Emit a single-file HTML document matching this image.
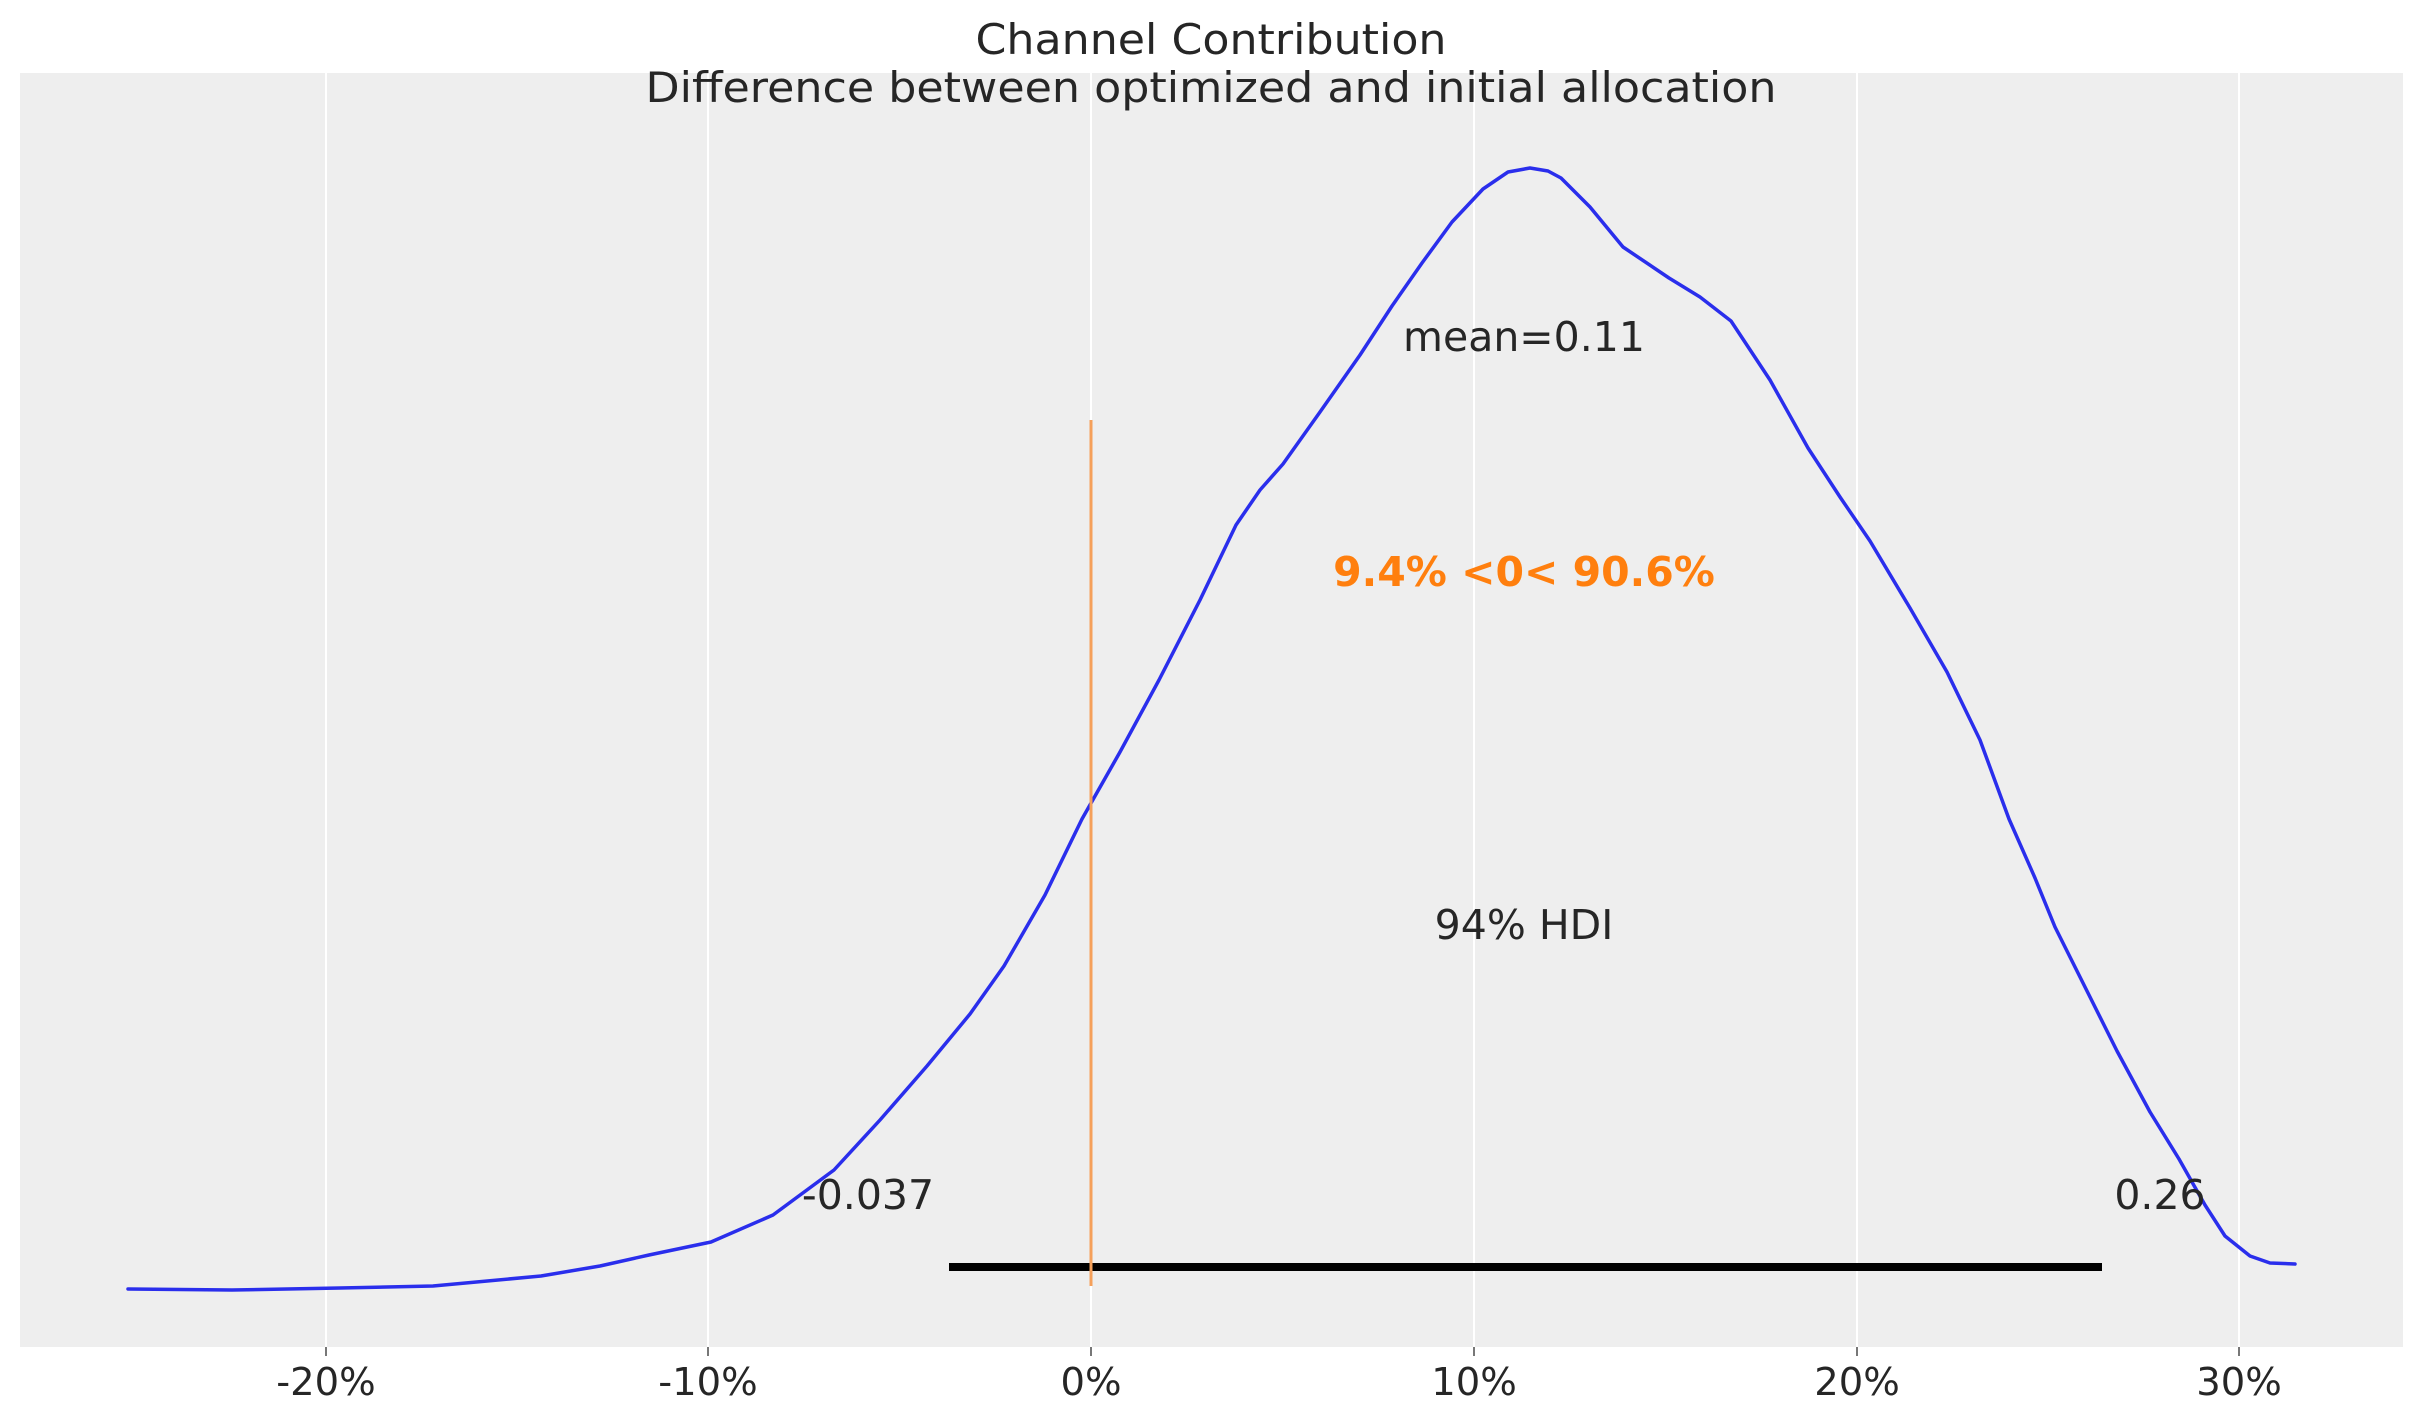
<!DOCTYPE html>
<html><head><meta charset="utf-8"><style>
html,body{margin:0;padding:0;background:#fff}
svg{display:block}
text{font-family:"DejaVu Sans","Liberation Sans",sans-serif;fill:#262626}
</style></head><body>
<svg width="2423" height="1423" viewBox="0 0 2423 1423" xmlns="http://www.w3.org/2000/svg">
<rect x="20" y="73" width="2383" height="1274" fill="#eeeeee"/>
<g stroke="#ffffff" stroke-width="2">
<line x1="326" y1="73" x2="326" y2="1347"/>
<line x1="708" y1="73" x2="708" y2="1347"/>
<line x1="1091" y1="73" x2="1091" y2="1347"/>
<line x1="1474" y1="73" x2="1474" y2="1347"/>
<line x1="1857" y1="73" x2="1857" y2="1347"/>
<line x1="2239" y1="73" x2="2239" y2="1347"/>
</g>
<g stroke="#777" stroke-width="2">
<line x1="326" y1="1347" x2="326" y2="1356"/>
<line x1="708" y1="1347" x2="708" y2="1356"/>
<line x1="1091" y1="1347" x2="1091" y2="1356"/>
<line x1="1474" y1="1347" x2="1474" y2="1356"/>
<line x1="1857" y1="1347" x2="1857" y2="1356"/>
<line x1="2239" y1="1347" x2="2239" y2="1356"/>
</g>
<g font-size="38.5" text-anchor="middle">
<text x="326" y="1395">-20%</text>
<text x="708" y="1395">-10%</text>
<text x="1091" y="1395">0%</text>
<text x="1474" y="1395">10%</text>
<text x="1857" y="1395">20%</text>
<text x="2239" y="1395">30%</text>
</g>
<text x="1211" y="54" font-size="42" text-anchor="middle" textLength="471" lengthAdjust="spacingAndGlyphs">Channel Contribution</text>
<text x="1211" y="102" font-size="42" text-anchor="middle" textLength="1131" lengthAdjust="spacingAndGlyphs">Difference between optimized and initial allocation</text>
<line x1="949" y1="1267" x2="2102" y2="1267" stroke="#000" stroke-width="8"/>
<polyline fill="none" stroke="#2a2eec" stroke-width="3.5" stroke-linejoin="round" stroke-linecap="round"
points="128,1289 232,1290 340,1288 433,1286 541,1276 600,1266 649,1255 711,1242 773,1215 834,1170 880,1120 927,1066 970,1014 1004,966 1045,895 1082,819 1120,752 1159,680 1200,600 1236,525 1260,490 1283,464 1320,412 1360,355 1392,306 1422,263 1452,222 1483,189 1508,172 1530,168 1548,171 1561,178 1590,207 1623,247 1669,278 1700,297 1731,321 1770,380 1808,448 1840,497 1870,541 1910,608 1947,672 1980,740 2009,819 2035,878 2055,927 2090,997 2117,1051 2150,1112 2179,1159 2205,1205 2225,1236 2250,1256 2270,1263 2295,1264"/>
<line x1="1091" y1="420" x2="1091" y2="1286" stroke="#f5a05a" stroke-width="3"/>
<g font-size="41" text-anchor="middle">
<text x="1524" y="351">mean=0.11</text>
<text x="1524" y="939">94% HDI</text>
<text x="868" y="1209">-0.037</text>
<text x="2160" y="1209">0.26</text>
</g>
<text x="1524" y="586" font-size="41" font-weight="bold" text-anchor="middle" style="fill:#ff7f0e">9.4% &lt;0&lt; 90.6%</text>
</svg>
</body></html>
